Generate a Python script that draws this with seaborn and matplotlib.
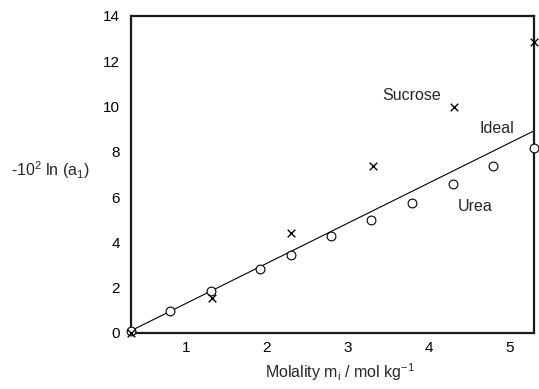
import matplotlib
matplotlib.use("Agg")
import matplotlib.pyplot as plt
import seaborn as sns
import pandas as pd

# Data
urea_m = [0.32, 0.80, 1.31, 1.91, 2.30, 2.79, 3.28, 3.79, 4.30, 4.79, 5.30]
urea_y = [0.10, 0.97, 1.86, 2.83, 3.44, 4.28, 4.99, 5.74, 6.58, 7.38, 8.17]
sucrose_m = [0.32, 1.32, 2.30, 3.31, 4.31, 5.30]
sucrose_y = [0.00, 1.55, 4.42, 7.38, 9.98, 12.85]
ideal_m = [0.32, 5.30]
ideal_y = [0.10, 8.93]
x_ticks = [1, 2, 3, 4, 5]
y_ticks = [0, 2, 4, 6, 8, 10, 12, 14]

sns.set_style("white")
plt.rcParams['font.family'] = ['Liberation Sans', 'DejaVu Sans']
plt.rcParams['mathtext.fontset'] = 'custom'
plt.rcParams['mathtext.rm'] = 'Liberation Sans'
plt.rcParams['mathtext.it'] = 'Liberation Sans'

fig = plt.figure(figsize=(5.39, 3.89), dpi=100)
ax = fig.add_axes([0.243, 0.144, 0.748, 0.815])

sns.lineplot(x=ideal_m, y=ideal_y, ax=ax, color='black', linewidth=0.8)
sns.scatterplot(x=urea_m, y=urea_y, ax=ax, marker='o', s=40,
                facecolor='white', edgecolor='black', linewidth=0.8, zorder=3, clip_on=False)
sns.scatterplot(x=sucrose_m, y=sucrose_y, ax=ax, marker='x', s=30,
                color='black', linewidth=1.0, zorder=4, clip_on=False)

ax.set_xlim(0.32, 5.30)
ax.set_ylim(0, 14)
ax.set_xticks(x_ticks)
ax.set_yticks(y_ticks)
ax.tick_params(direction='in', length=8, width=1.5, labelsize=11, pad=6, colors='black')
ax.tick_params(axis='y', pad=8)
for s in ax.spines.values():
    s.set_linewidth(1.6)
    s.set_color('#1a1a1a')

ax.text(3.79, 10.5, 'Sucrose', fontsize=11.5, ha='center', va='center')
ax.text(4.84, 9.05, 'Ideal', fontsize=11.5, ha='center', va='center')
ax.text(4.57, 5.57, 'Urea', fontsize=11.5, ha='center', va='center')

fig.text(50 / 539, 1 - 170 / 389, '-10$^2$ ln (a$_1$)', fontsize=11.5, ha='center', va='center')
fig.text(340 / 539, 1 - 372 / 389, 'Molality m$_\\mathrm{i}$ / mol kg$^{-1}$', fontsize=11.5,
         ha='center', va='center')

fig.savefig('out.png', dpi=100)
